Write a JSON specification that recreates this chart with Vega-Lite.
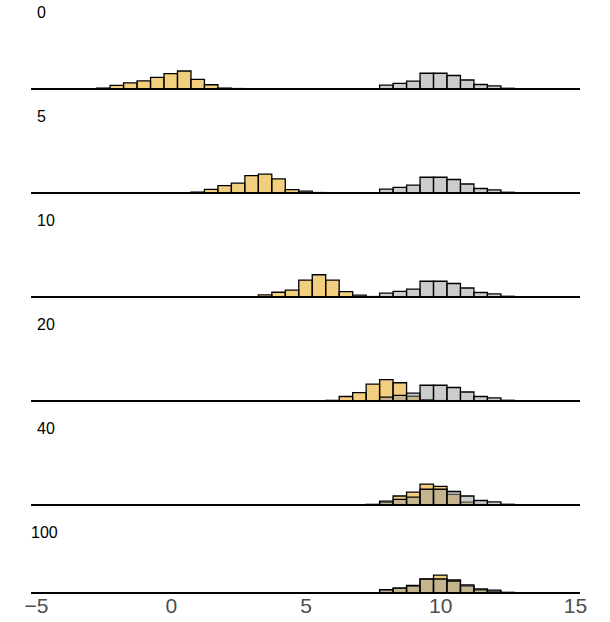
{
  "$schema": "https://vega.github.io/schema/vega-lite/v6.json",
  "padding": {"left": 24, "right": 0, "top": 5, "bottom": 0},
  "background": "white",
  "config": {
    "view": {"stroke": null},
    "font": "Liberation Sans",
    "title": {"anchor": "start", "fontSize": 16, "fontWeight": "normal", "font": "Liberation Sans", "color": "black", "offset": -4, "dx": 7},
    "concat": {"spacing": 19}
  },
  "datasets": {
    "orange": [
      {"iter": 0, "bin_start": -3.25, "bin_end": -2.75, "count": 3},
      {"iter": 0, "bin_start": -2.75, "bin_end": -2.25, "count": 10},
      {"iter": 0, "bin_start": -2.25, "bin_end": -1.75, "count": 40},
      {"iter": 0, "bin_start": -1.75, "bin_end": -1.25, "count": 67},
      {"iter": 0, "bin_start": -1.25, "bin_end": -0.75, "count": 90},
      {"iter": 0, "bin_start": -0.75, "bin_end": -0.25, "count": 130},
      {"iter": 0, "bin_start": -0.25, "bin_end": 0.25, "count": 170},
      {"iter": 0, "bin_start": 0.25, "bin_end": 0.75, "count": 200},
      {"iter": 0, "bin_start": 0.75, "bin_end": 1.25, "count": 107},
      {"iter": 0, "bin_start": 1.25, "bin_end": 1.75, "count": 47},
      {"iter": 0, "bin_start": 1.75, "bin_end": 2.25, "count": 10},
      {"iter": 0, "bin_start": 2.25, "bin_end": 2.75, "count": 5},
      {"iter": 0, "bin_start": 2.75, "bin_end": 3.25, "count": 2},
      {"iter": 5, "bin_start": 0.75, "bin_end": 1.25, "count": 10},
      {"iter": 5, "bin_start": 1.25, "bin_end": 1.75, "count": 40},
      {"iter": 5, "bin_start": 1.75, "bin_end": 2.25, "count": 83},
      {"iter": 5, "bin_start": 2.25, "bin_end": 2.75, "count": 110},
      {"iter": 5, "bin_start": 2.75, "bin_end": 3.25, "count": 193},
      {"iter": 5, "bin_start": 3.25, "bin_end": 3.75, "count": 210},
      {"iter": 5, "bin_start": 3.75, "bin_end": 4.25, "count": 157},
      {"iter": 5, "bin_start": 4.25, "bin_end": 4.75, "count": 37},
      {"iter": 5, "bin_start": 4.75, "bin_end": 5.25, "count": 20},
      {"iter": 5, "bin_start": 5.25, "bin_end": 5.75, "count": 5},
      {"iter": 10, "bin_start": 3.25, "bin_end": 3.75, "count": 23},
      {"iter": 10, "bin_start": 3.75, "bin_end": 4.25, "count": 53},
      {"iter": 10, "bin_start": 4.25, "bin_end": 4.75, "count": 77},
      {"iter": 10, "bin_start": 4.75, "bin_end": 5.25, "count": 187},
      {"iter": 10, "bin_start": 5.25, "bin_end": 5.75, "count": 247},
      {"iter": 10, "bin_start": 5.75, "bin_end": 6.25, "count": 187},
      {"iter": 10, "bin_start": 6.25, "bin_end": 6.75, "count": 60},
      {"iter": 10, "bin_start": 6.75, "bin_end": 7.25, "count": 20},
      {"iter": 10, "bin_start": 7.25, "bin_end": 7.75, "count": 5},
      {"iter": 20, "bin_start": 5.75, "bin_end": 6.25, "count": 7},
      {"iter": 20, "bin_start": 6.25, "bin_end": 6.75, "count": 50},
      {"iter": 20, "bin_start": 6.75, "bin_end": 7.25, "count": 93},
      {"iter": 20, "bin_start": 7.25, "bin_end": 7.75, "count": 187},
      {"iter": 20, "bin_start": 7.75, "bin_end": 8.25, "count": 237},
      {"iter": 20, "bin_start": 8.25, "bin_end": 8.75, "count": 203},
      {"iter": 20, "bin_start": 8.75, "bin_end": 9.25, "count": 53},
      {"iter": 20, "bin_start": 9.25, "bin_end": 9.75, "count": 15},
      {"iter": 20, "bin_start": 9.75, "bin_end": 10.25, "count": 5},
      {"iter": 40, "bin_start": 7.25, "bin_end": 7.75, "count": 7},
      {"iter": 40, "bin_start": 7.75, "bin_end": 8.25, "count": 30},
      {"iter": 40, "bin_start": 8.25, "bin_end": 8.75, "count": 100},
      {"iter": 40, "bin_start": 8.75, "bin_end": 9.25, "count": 143},
      {"iter": 40, "bin_start": 9.25, "bin_end": 9.75, "count": 233},
      {"iter": 40, "bin_start": 9.75, "bin_end": 10.25, "count": 207},
      {"iter": 40, "bin_start": 10.25, "bin_end": 10.75, "count": 117},
      {"iter": 40, "bin_start": 10.75, "bin_end": 11.25, "count": 33},
      {"iter": 40, "bin_start": 11.25, "bin_end": 11.75, "count": 5},
      {"iter": 100, "bin_start": 7.25, "bin_end": 7.75, "count": 4},
      {"iter": 100, "bin_start": 7.75, "bin_end": 8.25, "count": 35},
      {"iter": 100, "bin_start": 8.25, "bin_end": 8.75, "count": 60},
      {"iter": 100, "bin_start": 8.75, "bin_end": 9.25, "count": 94},
      {"iter": 100, "bin_start": 9.25, "bin_end": 9.75, "count": 173},
      {"iter": 100, "bin_start": 9.75, "bin_end": 10.25, "count": 224},
      {"iter": 100, "bin_start": 10.25, "bin_end": 10.75, "count": 165},
      {"iter": 100, "bin_start": 10.75, "bin_end": 11.25, "count": 85},
      {"iter": 100, "bin_start": 11.25, "bin_end": 11.75, "count": 35},
      {"iter": 100, "bin_start": 11.75, "bin_end": 12.25, "count": 20},
      {"iter": 100, "bin_start": 12.25, "bin_end": 12.75, "count": 5}
    ],
    "gray": [
      {"bin_start": 7.25, "bin_end": 7.75, "count": 3},
      {"bin_start": 7.75, "bin_end": 8.25, "count": 42},
      {"bin_start": 8.25, "bin_end": 8.75, "count": 62},
      {"bin_start": 8.75, "bin_end": 9.25, "count": 88},
      {"bin_start": 9.25, "bin_end": 9.75, "count": 175},
      {"bin_start": 9.75, "bin_end": 10.25, "count": 175},
      {"bin_start": 10.25, "bin_end": 10.75, "count": 150},
      {"bin_start": 10.75, "bin_end": 11.25, "count": 100},
      {"bin_start": 11.25, "bin_end": 11.75, "count": 50},
      {"bin_start": 11.75, "bin_end": 12.25, "count": 35},
      {"bin_start": 12.25, "bin_end": 12.75, "count": 8},
      {"bin_start": 12.75, "bin_end": 13.25, "count": 2}
    ],
    "base": [{"b": 0}]
  },
  "vconcat": [
    {
      "title": "0", "width": 549, "height": 72,
      "layer": [
        {"data": {"name": "orange"}, "transform": [{"filter": "datum.iter == 0"}],
         "mark": {"type": "bar", "orient": "vertical", "fill": "#E69F00", "fillOpacity": 0.5, "stroke": "black", "strokeWidth": 1.3},
         "encoding": {"x": {"field": "bin_start", "type": "quantitative", "scale": {"domain": [-5, 15], "nice": false, "zero": false}, "axis": null}, "x2": {"field": "bin_end"}, "y": {"field": "count", "type": "quantitative", "scale": {"domain": [0, 720]}, "axis": null}, "y2": {"datum": 0}}},
        {"data": {"name": "gray"},
         "mark": {"type": "bar", "orient": "vertical", "fill": "#999999", "fillOpacity": 0.5, "stroke": "black", "strokeWidth": 1.3},
         "encoding": {"x": {"field": "bin_start", "type": "quantitative"}, "x2": {"field": "bin_end"}, "y": {"field": "count", "type": "quantitative"}, "y2": {"datum": 0}}},
        {"data": {"name": "base"}, "mark": {"type": "rule", "color": "black", "strokeWidth": 2},
         "encoding": {"y": {"field": "b", "type": "quantitative"}}}
      ]
    },
    {
      "title": "5", "width": 549, "height": 72,
      "layer": [
        {"data": {"name": "orange"}, "transform": [{"filter": "datum.iter == 5"}],
         "mark": {"type": "bar", "orient": "vertical", "fill": "#E69F00", "fillOpacity": 0.5, "stroke": "black", "strokeWidth": 1.3},
         "encoding": {"x": {"field": "bin_start", "type": "quantitative", "scale": {"domain": [-5, 15], "nice": false, "zero": false}, "axis": null}, "x2": {"field": "bin_end"}, "y": {"field": "count", "type": "quantitative", "scale": {"domain": [0, 720]}, "axis": null}, "y2": {"datum": 0}}},
        {"data": {"name": "gray"},
         "mark": {"type": "bar", "orient": "vertical", "fill": "#999999", "fillOpacity": 0.5, "stroke": "black", "strokeWidth": 1.3},
         "encoding": {"x": {"field": "bin_start", "type": "quantitative"}, "x2": {"field": "bin_end"}, "y": {"field": "count", "type": "quantitative"}, "y2": {"datum": 0}}},
        {"data": {"name": "base"}, "mark": {"type": "rule", "color": "black", "strokeWidth": 2},
         "encoding": {"y": {"field": "b", "type": "quantitative"}}}
      ]
    },
    {
      "title": "10", "width": 549, "height": 72,
      "layer": [
        {"data": {"name": "orange"}, "transform": [{"filter": "datum.iter == 10"}],
         "mark": {"type": "bar", "orient": "vertical", "fill": "#E69F00", "fillOpacity": 0.5, "stroke": "black", "strokeWidth": 1.3},
         "encoding": {"x": {"field": "bin_start", "type": "quantitative", "scale": {"domain": [-5, 15], "nice": false, "zero": false}, "axis": null}, "x2": {"field": "bin_end"}, "y": {"field": "count", "type": "quantitative", "scale": {"domain": [0, 720]}, "axis": null}, "y2": {"datum": 0}}},
        {"data": {"name": "gray"},
         "mark": {"type": "bar", "orient": "vertical", "fill": "#999999", "fillOpacity": 0.5, "stroke": "black", "strokeWidth": 1.3},
         "encoding": {"x": {"field": "bin_start", "type": "quantitative"}, "x2": {"field": "bin_end"}, "y": {"field": "count", "type": "quantitative"}, "y2": {"datum": 0}}},
        {"data": {"name": "base"}, "mark": {"type": "rule", "color": "black", "strokeWidth": 2},
         "encoding": {"y": {"field": "b", "type": "quantitative"}}}
      ]
    },
    {
      "title": "20", "width": 549, "height": 72,
      "layer": [
        {"data": {"name": "orange"}, "transform": [{"filter": "datum.iter == 20"}],
         "mark": {"type": "bar", "orient": "vertical", "fill": "#E69F00", "fillOpacity": 0.5, "stroke": "black", "strokeWidth": 1.3},
         "encoding": {"x": {"field": "bin_start", "type": "quantitative", "scale": {"domain": [-5, 15], "nice": false, "zero": false}, "axis": null}, "x2": {"field": "bin_end"}, "y": {"field": "count", "type": "quantitative", "scale": {"domain": [0, 720]}, "axis": null}, "y2": {"datum": 0}}},
        {"data": {"name": "gray"},
         "mark": {"type": "bar", "orient": "vertical", "fill": "#999999", "fillOpacity": 0.5, "stroke": "black", "strokeWidth": 1.3},
         "encoding": {"x": {"field": "bin_start", "type": "quantitative"}, "x2": {"field": "bin_end"}, "y": {"field": "count", "type": "quantitative"}, "y2": {"datum": 0}}},
        {"data": {"name": "base"}, "mark": {"type": "rule", "color": "black", "strokeWidth": 2},
         "encoding": {"y": {"field": "b", "type": "quantitative"}}}
      ]
    },
    {
      "title": "40", "width": 549, "height": 72,
      "layer": [
        {"data": {"name": "orange"}, "transform": [{"filter": "datum.iter == 40"}],
         "mark": {"type": "bar", "orient": "vertical", "fill": "#E69F00", "fillOpacity": 0.5, "stroke": "black", "strokeWidth": 1.3},
         "encoding": {"x": {"field": "bin_start", "type": "quantitative", "scale": {"domain": [-5, 15], "nice": false, "zero": false}, "axis": null}, "x2": {"field": "bin_end"}, "y": {"field": "count", "type": "quantitative", "scale": {"domain": [0, 720]}, "axis": null}, "y2": {"datum": 0}}},
        {"data": {"name": "gray"},
         "mark": {"type": "bar", "orient": "vertical", "fill": "#999999", "fillOpacity": 0.5, "stroke": "black", "strokeWidth": 1.3},
         "encoding": {"x": {"field": "bin_start", "type": "quantitative"}, "x2": {"field": "bin_end"}, "y": {"field": "count", "type": "quantitative"}, "y2": {"datum": 0}}},
        {"data": {"name": "base"}, "mark": {"type": "rule", "color": "black", "strokeWidth": 2},
         "encoding": {"y": {"field": "b", "type": "quantitative"}}}
      ]
    },
    {
      "title": "100", "width": 549, "height": 56,
      "layer": [
        {"data": {"name": "orange"}, "transform": [{"filter": "datum.iter == 100"}],
         "mark": {"type": "bar", "orient": "vertical", "fill": "#E69F00", "fillOpacity": 0.5, "stroke": "black", "strokeWidth": 1.3},
         "encoding": {"x": {"field": "bin_start", "type": "quantitative", "scale": {"domain": [-5, 15], "nice": false, "zero": false}, "axis": {"values": [-5, 0, 5, 10, 15], "title": null, "domain": false, "ticks": false, "grid": false, "labelFontSize": 21, "labelColor": "#4D4D4D", "labelFont": "Liberation Sans", "labelPadding": 2, "labelFlush": false}}, "x2": {"field": "bin_end"}, "y": {"field": "count", "type": "quantitative", "scale": {"domain": [0, 660]}, "axis": null}, "y2": {"datum": 0}}},
        {"data": {"name": "gray"},
         "mark": {"type": "bar", "orient": "vertical", "fill": "#999999", "fillOpacity": 0.5, "stroke": "black", "strokeWidth": 1.3},
         "encoding": {"x": {"field": "bin_start", "type": "quantitative"}, "x2": {"field": "bin_end"}, "y": {"field": "count", "type": "quantitative"}, "y2": {"datum": 0}}},
        {"data": {"name": "base"}, "mark": {"type": "rule", "color": "black", "strokeWidth": 2},
         "encoding": {"y": {"field": "b", "type": "quantitative"}}}
      ]
    }
  ]
}
